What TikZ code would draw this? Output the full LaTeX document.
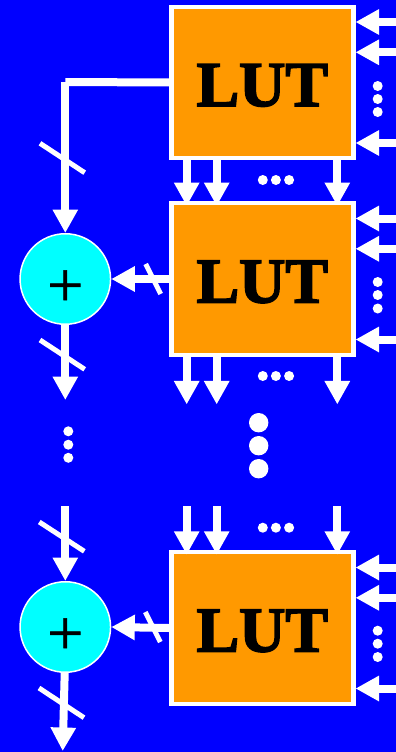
\documentclass[tikz,border=0pt]{standalone}
\usepackage{fontspec}
\setmainfont{Liberation Serif}[UprightFeatures={FakeBold=1},BoldFeatures={FakeBold=2.5}]
\usetikzlibrary{arrows.meta,backgrounds}
\definecolor{lutorange}{HTML}{FF9900}
\definecolor{sumcyan}{HTML}{00FFFF}
\definecolor{padblue}{HTML}{0000FF}
\tikzset{
  lutbox/.style={draw=white,fill=lutorange,line width=4.4pt,minimum width=182pt,minimum height=151.5pt,
    inner sep=0pt,text depth=0pt,text height=47pt,font=\fontsize{64}{64}\selectfont\bfseries},
  sumbox/.style={circle,draw=white,fill=sumcyan,line width=1.5pt,minimum size=90.5pt,
    inner sep=0pt,text depth=0pt,text height=55pt,font=\fontsize{64}{64}\selectfont},
  wire/.style={draw=white,line width=8pt},
  bus/.style={wire,-{Triangle[width=24pt,length=23.5pt]}},
  slash/.style={draw=white,line width=5pt}
}
\begin{document}
\begin{tikzpicture}[x=1pt,y=-1pt]
  \useasboundingbox (0,0) rectangle (396,752);
  \begin{scope}[on background layer]
    \fill [padblue] (0,0) rectangle (396,752);
  \end{scope}
  \node [lutbox] (lutA) at (262.3,82.5) {LUT};
  \node [lutbox] (lutB) at (262.3,279) {LUT};
  \node [lutbox] (lutC) at (262.3,628) {LUT};
  \node [sumbox] (sumB) at (65.3,279) {+};
  \node [sumbox] (sumC) at (65.3,627) {+};
  \coordinate (turnA) at (65.3,82);
  \coordinate (outB) at (65.3,400);
  \coordinate (inC) at (65.3,506.3);
  \coordinate (outC) at (62.7,751);
  % inputs on the right
  \foreach \lut in {lutA,lutB,lutC}
    \foreach \off/\pin in {60.5/a,30.2/b,-60.5/c} {
      \coordinate (\lut-\pin) at ([xshift=41pt,yshift=\off pt]\lut.east);
      \draw [bus] (\lut-\pin) -- ([yshift=\off pt]\lut.east);
    }
  % outputs between the blocks
  \foreach \off/\pin in {-75.6/a,-45.6/b,75/c} {
    \begin{scope}[on background layer]
      \draw [bus,shorten >=-5pt] ([xshift=\off pt]lutA.south) -- ([xshift=\off pt]lutB.north);
    \end{scope}
    \coordinate (lutB-out\pin) at ([xshift=\off pt,yshift=-47.5pt]lutB.south);
    \draw [bus] ([xshift=\off pt]lutB.south) -- (lutB-out\pin);
    \coordinate (lutC-in\pin) at ([xshift=\off pt,yshift=44pt]lutC.north);
    \draw [bus,shorten >=-4.7pt] (lutC-in\pin) -- ([xshift=\off pt]lutC.north);
  }
  % adder chain
  \draw [wire] (lutA.west) -- (turnA);
  \draw [bus] (turnA) -- (sumB.north);
  \draw [bus] (lutB.west) -- (sumB.east);
  \draw [bus] (sumB.south) -- (outB);
  \draw [bus] (inC) -- (sumC.north);
  \draw [bus] (lutC.west) -- (sumC.east);
  \draw [bus] ([xshift=-0.6pt]sumC.south) -- (outC);
  \draw [slash] (40,143.3) -- (84.7,172.7);
  \draw [slash] (40,340) -- (84.7,369.3);
  \draw [slash] (39.3,522) -- (84.3,551.3);
  \draw [slash] (39,688) -- (84,717.7);
  \draw [slash] (145.7,264) -- (160.7,294);
  \draw [slash] (145.3,612) -- (160.3,642);
  % dots
  \foreach \y in {86,99,112,282,295,308.5,630.7,643.7,657}
    \fill [white] (377.7,\y) circle (5pt);
  \foreach \y in {180,376,527.7} {
    \fill [white] (262.8,\y) circle (5pt);
    \fill [white] (275.9,\y) circle (5pt);
    \fill [white] (289.1,\y) circle (5pt);
  }
  \foreach \y in {431.3,444.7,457.8}
    \fill [white] (68.3,\y) circle (5pt);
  \foreach \y in {422.7,445.7,468.7}
    \fill [white] (258.7,\y) circle (9.7pt);
\end{tikzpicture}
\end{document}
